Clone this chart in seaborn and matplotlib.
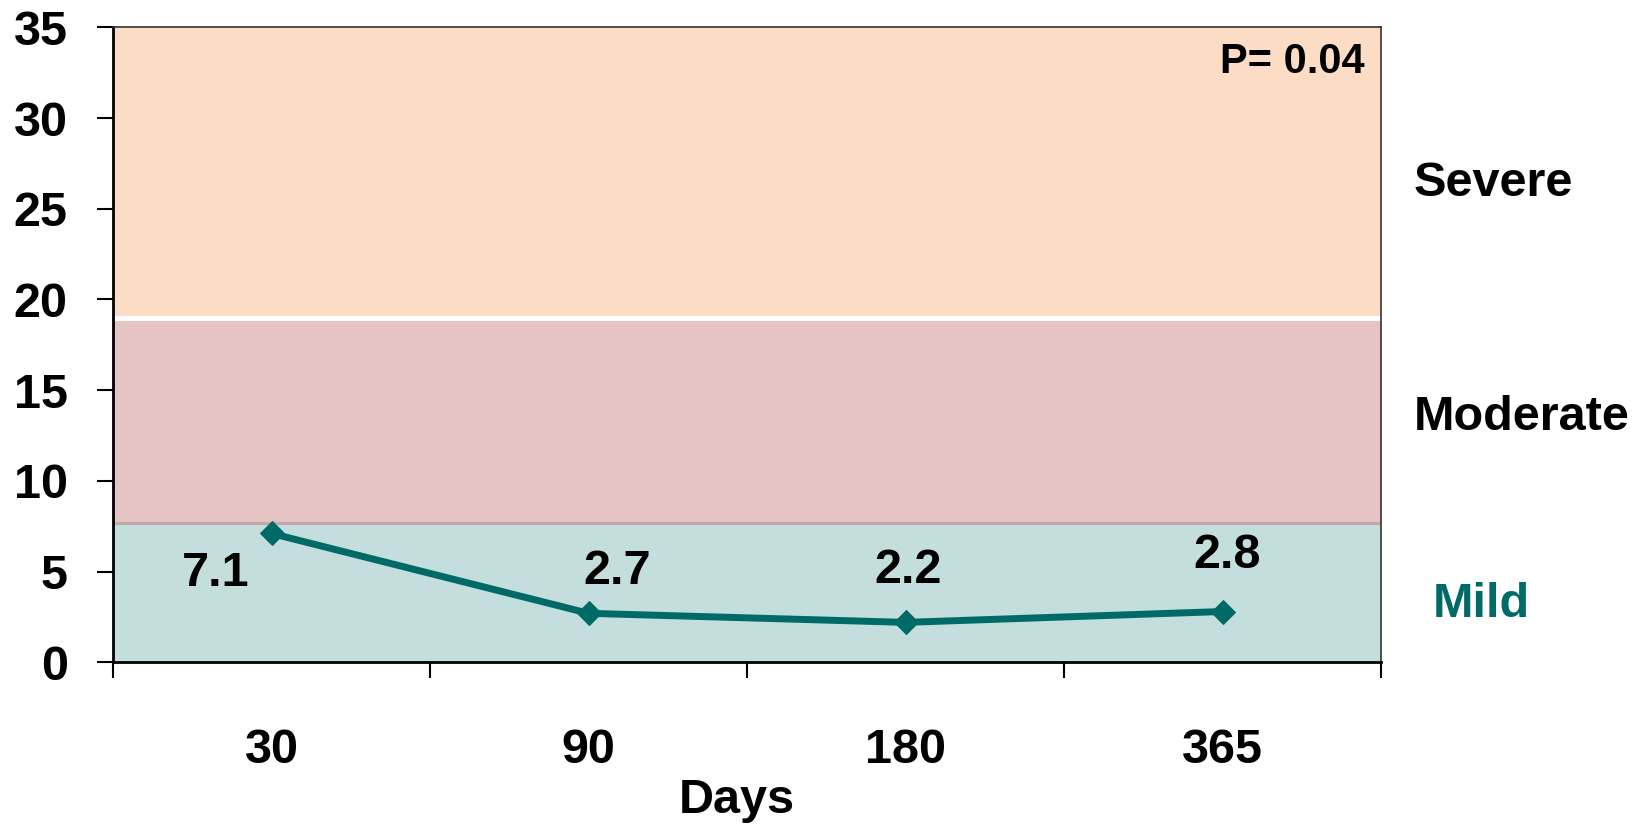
import matplotlib
matplotlib.use("Agg")
import matplotlib.pyplot as plt
import seaborn as sns
import pandas as pd
import numpy as np

# ---- data ----
days = ["30", "90", "180", "365"]
scores = [7.1, 2.7, 2.2, 2.8]
band_names = ["Mild", "Moderate", "Severe"]
band_edges = [0, 7.7, 19, 35]
p_text = "P= 0.04"
y_ticks = [0, 5, 10, 15, 20, 25, 30, 35]

# ---- style ----
sns.set_theme(style="white")
plt.rcParams['font.family'] = ['Liberation Sans', 'DejaVu Sans']
plt.rcParams['font.weight'] = 'bold'
plt.rcParams['text.color'] = 'black'
plt.rcParams['axes.labelcolor'] = 'black'
plt.rcParams['xtick.color'] = 'black'
plt.rcParams['ytick.color'] = 'black'

band_colors = ["#C4DDDD", "#E6C4C4", "#FDDCC6"]
band_text_colors = ["#006B66", "black", "black"]
teal = "#006B66"
FS = 35

fig = plt.figure(figsize=(16.43, 8.25), dpi=100)
L, R, T, B = 113, 1381, 27.3, 662.3
W, H = 1643, 825
ax = fig.add_axes([L / W, (H - B) / H, (R - L) / W, (B - T) / H])

for lo, hi, c in zip(band_edges[:-1], band_edges[1:], band_colors):
    ax.axhspan(lo, hi, color=c, lw=0, zorder=0)
ax.axhline(band_edges[2], color="white", lw=3.6, zorder=1)
ax.axhline(band_edges[1], color="#C2A9A9", lw=2.3, zorder=1)

df = pd.DataFrame({"Days": days, "score": scores})
sns.lineplot(data=df, x="Days", y="score", ax=ax, color=teal, lw=5,
             marker="D", markersize=12, markeredgecolor=teal, sort=False, zorder=3)

# value labels (offsets in points)
offsets = [(-40, -29), (21, 30), (2, 37), (3, 40)]
for i, (v, off) in enumerate(zip(scores, offsets)):
    ax.annotate(f"{v}", (i, v), xytext=off, textcoords="offset points",
                ha="center", va="center", fontsize=FS, fontweight="bold", color="black")

ax.set_xlim(-0.5, len(days) - 0.5)
ax.set_ylim(band_edges[0], band_edges[-1])
ax.set_yticks(y_ticks)
ax.set_yticklabels([str(t) for t in y_ticks], fontsize=FS, fontweight="bold", color="black")
ax.tick_params(axis="y", direction="out", length=11.5, width=1.5, pad=21, color="black", left=True)

# x ticks: major at boundaries (marks), minor at centers (labels)
ax.set_xticks(np.arange(-0.5, len(days), 1.0))
ax.set_xticklabels([])
ax.set_xticks(range(len(days)), minor=True)
ax.set_xticklabels(days, minor=True, fontsize=FS, fontweight="bold", color="black")
ax.tick_params(axis="x", which="major", direction="out", length=11.5, width=1.5, color="black", bottom=True)
ax.tick_params(axis="x", which="minor", length=0, pad=47, bottom=True)

ax.set_ylabel("")
ax.set_xlabel("Days", fontsize=FS, fontweight="bold", color="black")
ax.xaxis.set_label_coords(0.492, -0.217)
ax.xaxis.label.set_va("center")

for s in ["left", "bottom"]:
    ax.spines[s].set_color("black")
    ax.spines[s].set_linewidth(2)
for s in ["top", "right"]:
    ax.spines[s].set_color("#333333")
    ax.spines[s].set_linewidth(1.2)

# band labels
band_label_y = [3.2, 13.5, 26.4]
band_label_x = [1.041, 1.026, 1.026]
for name, yv, xv, c in zip(band_names, band_label_y, band_label_x, band_text_colors):
    ax.text(xv, yv, name, transform=ax.get_yaxis_transform(), ha="left", va="center",
            fontsize=FS, fontweight="bold", color=c, clip_on=False)

ax.text(0.987, 33.1, p_text, transform=ax.get_yaxis_transform(), ha="right", va="center",
        fontsize=30, fontweight="bold", color="black")

fig.savefig("out.png", dpi=100)
